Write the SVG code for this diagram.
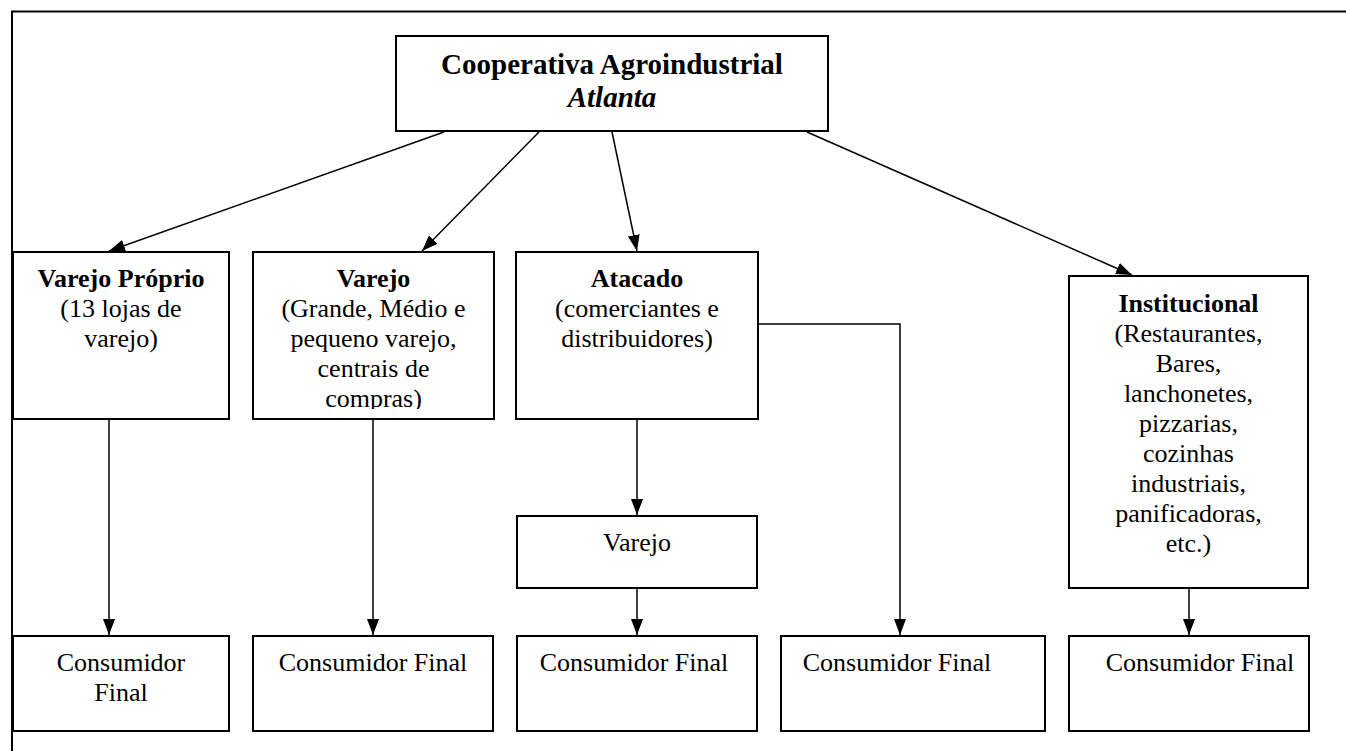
<svg xmlns="http://www.w3.org/2000/svg" width="1346" height="751" viewBox="0 0 1346 751">
<style>
.box{fill:#fff;stroke:#000;stroke-width:2}
.t{font-family:"Liberation Serif","Times New Roman",serif;font-size:26px;fill:#000;text-anchor:middle}
.b{font-weight:bold}
.big{font-size:29px}
.i{font-style:italic}
.c{fill:none;stroke:#000;stroke-width:1.5}
</style>
<defs>
<marker id="ah" markerUnits="userSpaceOnUse" markerWidth="18" markerHeight="12" refX="16" refY="6" orient="auto">
<path d="M0,0 L16,6 L0,12 Z" fill="#000"/>
</marker>
<clipPath id="clipV"><rect x="253" y="252" width="241" height="157"/></clipPath>
</defs>
<rect width="1346" height="751" fill="#fff"/>
<g id="frame">
<path d="M12,751 V11.5 H1346" fill="none" stroke="#000" stroke-width="2"/>
</g>
<g id="connectors">
<line class="c" x1="444" y1="132" x2="109" y2="251" marker-end="url(#ah)"/>
<line class="c" x1="539" y1="132" x2="422" y2="251" marker-end="url(#ah)"/>
<line class="c" x1="612" y1="132" x2="637" y2="251" marker-end="url(#ah)"/>
<line class="c" x1="807" y1="132" x2="1132" y2="275" marker-end="url(#ah)"/>
<line class="c" x1="109" y1="420" x2="109" y2="635" marker-end="url(#ah)"/>
<line class="c" x1="373" y1="420" x2="373" y2="635" marker-end="url(#ah)"/>
<line class="c" x1="637" y1="420" x2="637" y2="515" marker-end="url(#ah)"/>
<line class="c" x1="637" y1="589" x2="637" y2="635" marker-end="url(#ah)"/>
<polyline class="c" points="758,324 900,324 900,635" marker-end="url(#ah)"/>
<line class="c" x1="1189" y1="589" x2="1189" y2="635" marker-end="url(#ah)"/>
</g>
<g id="cooperativa">
<rect class="box" x="396" y="36" width="432" height="95"/>
<text class="t b big" x="612" y="74">Cooperativa Agroindustrial</text>
<text class="t b i big" x="612" y="107">Atlanta</text>
</g>
<g id="varejo-proprio">
<rect class="box" x="13" y="252" width="216" height="167"/>
<text class="t b" x="121" y="287">Varejo Próprio</text>
<text class="t" x="121" y="317">(13 lojas de</text>
<text class="t" x="121" y="347">varejo)</text>
</g>
<g id="varejo">
<rect class="box" x="253" y="252" width="241" height="167"/>
<g clip-path="url(#clipV)">
<text class="t b" x="373.5" y="287">Varejo</text>
<text class="t" x="373.5" y="317">(Grande, Médio e</text>
<text class="t" x="373.5" y="347">pequeno varejo,</text>
<text class="t" x="373.5" y="377">centrais de</text>
<text class="t" x="373.5" y="407">compras)</text>
</g>
</g>
<g id="atacado">
<rect class="box" x="516" y="252" width="242" height="167"/>
<text class="t b" x="637" y="287">Atacado</text>
<text class="t" x="637" y="317">(comerciantes e</text>
<text class="t" x="637" y="347">distribuidores)</text>
</g>
<g id="institucional">
<rect class="box" x="1069" y="276" width="239" height="312"/>
<text class="t b" x="1188.5" y="312">Institucional</text>
<text class="t" x="1188.5" y="342">(Restaurantes,</text>
<text class="t" x="1188.5" y="372">Bares,</text>
<text class="t" x="1188.5" y="402">lanchonetes,</text>
<text class="t" x="1188.5" y="432">pizzarias,</text>
<text class="t" x="1188.5" y="462">cozinhas</text>
<text class="t" x="1188.5" y="492">industriais,</text>
<text class="t" x="1188.5" y="522">panificadoras,</text>
<text class="t" x="1188.5" y="552">etc.)</text>
</g>
<g id="varejo-atacado">
<rect class="box" x="517" y="516" width="240" height="72"/>
<text class="t" x="637" y="551">Varejo</text>
</g>
<g id="consumidor-1">
<rect class="box" x="13" y="636" width="216" height="95"/>
<text class="t" x="121" y="671">Consumidor</text>
<text class="t" x="121" y="701">Final</text>
</g>
<g id="consumidor-2">
<rect class="box" x="253" y="636" width="240" height="95"/>
<text class="t" x="373" y="671">Consumidor Final</text>
</g>
<g id="consumidor-3">
<rect class="box" x="517" y="636" width="240" height="95"/>
<text class="t" x="634" y="671">Consumidor Final</text>
</g>
<g id="consumidor-4">
<rect class="box" x="781" y="636" width="264" height="95"/>
<text class="t" x="897" y="671">Consumidor Final</text>
</g>
<g id="consumidor-5">
<rect class="box" x="1069" y="636" width="240" height="95"/>
<text class="t" x="1200" y="671">Consumidor Final</text>
</g>
</svg>
